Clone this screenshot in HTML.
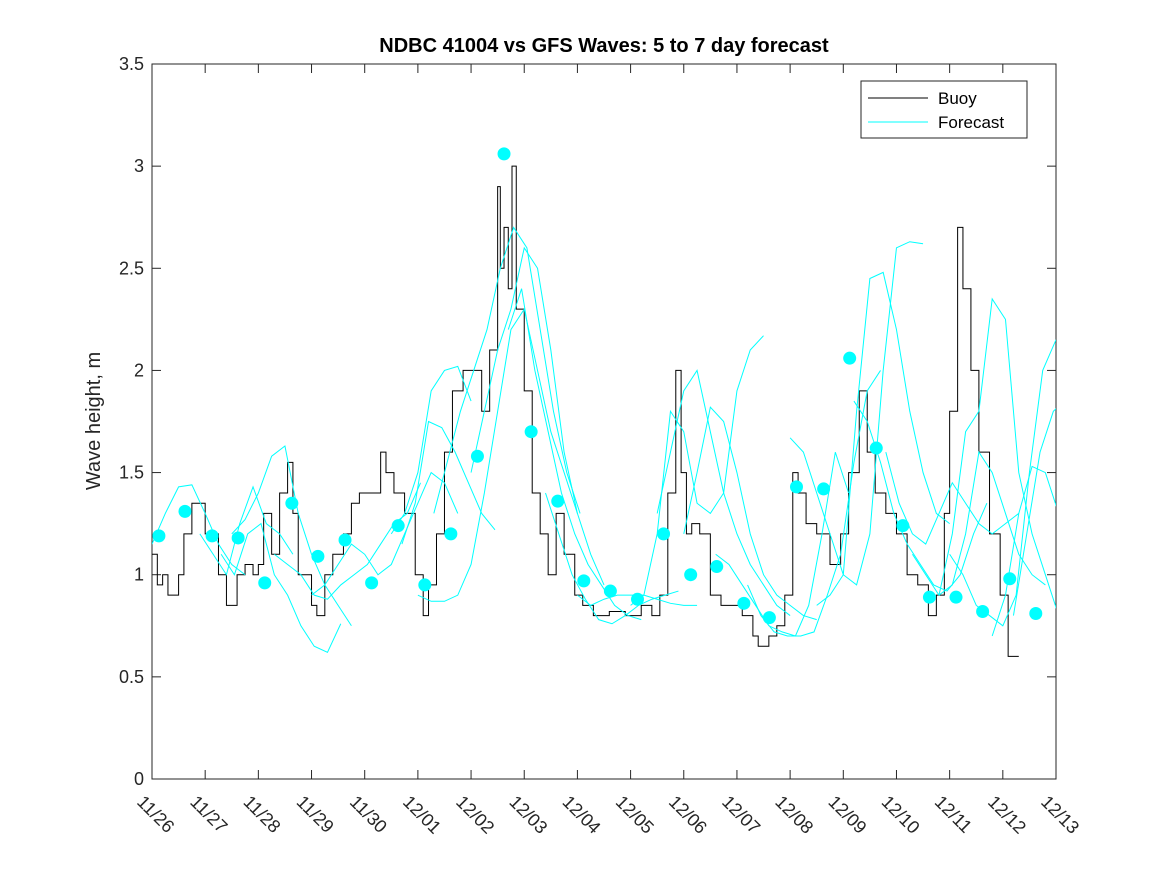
<!DOCTYPE html>
<html><head><meta charset="utf-8"><style>
body{margin:0;background:#fff;}
svg{display:block;font-family:"Liberation Sans",sans-serif;}
</style></head><body>
<svg id="chart" width="1167" height="875">
<rect width="1167" height="875" fill="#fff"/>
<defs><clipPath id="pc"><rect x="152" y="64" width="904" height="715"/></clipPath></defs>
<rect x="152" y="64" width="904" height="715" fill="#fff" stroke="#262626"/>
<g id="grid"></g>
<g id="series" clip-path="url(#pc)"></g>
<text x="604" y="52" text-anchor="middle" font-size="20" font-weight="bold" fill="#000">NDBC 41004 vs GFS Waves: 5 to 7 day forecast</text>
<text transform="translate(100,421) rotate(-90)" text-anchor="middle" font-size="20" fill="#262626">Wave height, m</text>
<g>
<rect x="861" y="81" width="166" height="57" fill="#fff" stroke="#262626"/>
<line x1="868" y1="98" x2="928" y2="98" stroke="#000"/>
<text x="938" y="104" font-size="17" fill="#000">Buoy</text>
<line x1="868" y1="122" x2="928" y2="122" stroke="#00ffff"/>
<text x="938" y="128" font-size="17" fill="#000">Forecast</text>
</g>
</svg>
<script>
const xTickLabels=["11/26","11/27","11/28","11/29","11/30","12/01","12/02","12/03","12/04","12/05","12/06","12/07","12/08","12/09","12/10","12/11","12/12","12/13"];
const yTicks=[0,0.5,1,1.5,2,2.5,3,3.5];
const buoyDays=[0,0.1,0.2,0.3,0.5,0.6,0.75,1.0,1.25,1.4,1.6,1.75,1.9,2.0,2.1,2.25,2.4,2.55,2.65,2.75,2.9,3.0,3.1,3.25,3.4,3.6,3.75,3.9,4.1,4.3,4.4,4.55,4.75,4.95,5.1,5.2,5.35,5.5,5.65,5.85,6.0,6.2,6.35,6.5,6.55,6.62,6.7,6.77,6.85,7.0,7.15,7.3,7.45,7.6,7.75,7.95,8.1,8.3,8.6,8.9,9.2,9.4,9.55,9.7,9.85,9.95,10.05,10.15,10.3,10.5,10.7,10.9,11.1,11.3,11.4,11.6,11.75,11.9,12.05,12.15,12.3,12.5,12.75,12.95,13.1,13.3,13.45,13.6,13.8,14.0,14.2,14.4,14.6,14.75,14.9,15.0,15.15,15.25,15.4,15.55,15.75,15.95,16.1,16.3];
const buoyVals=[1.1,0.95,1.0,0.9,1.0,1.2,1.35,1.2,1.0,0.85,1.0,1.05,1.0,1.05,1.3,1.1,1.4,1.55,1.3,1.0,1.0,0.85,0.8,1.0,1.1,1.2,1.35,1.4,1.4,1.6,1.5,1.4,1.3,1.0,0.8,0.95,1.2,1.6,1.9,2.0,2.0,1.8,2.1,2.9,2.5,2.7,2.4,3.0,2.3,1.9,1.4,1.2,1.0,1.3,1.1,0.9,0.85,0.8,0.82,0.8,0.85,0.8,0.9,1.4,2.0,1.5,1.2,1.25,1.2,0.9,0.85,0.85,0.8,0.7,0.65,0.7,0.75,0.9,1.5,1.4,1.25,1.2,1.05,1.2,1.5,1.9,1.6,1.4,1.3,1.2,1.0,0.95,0.8,0.9,1.3,1.8,2.7,2.4,2.0,1.6,1.2,0.9,0.6,0.6];
const dotDays=[0.13,0.62,1.13,1.62,2.12,2.63,3.12,3.63,4.13,4.63,5.13,5.62,6.12,6.62,7.13,7.63,8.12,8.62,9.13,9.62,10.13,10.62,11.13,11.61,12.12,12.63,13.12,13.62,14.12,14.62,15.12,15.62,16.13,16.62];
const dotVals=[1.19,1.31,1.19,1.18,0.96,1.35,1.09,1.17,0.96,1.24,0.95,1.20,1.58,3.06,1.70,1.36,0.97,0.92,0.88,1.20,1.00,1.04,0.86,0.79,1.43,1.42,2.06,1.62,1.24,0.89,0.89,0.82,0.98,0.81];
const fcStarts=[0,0.9,1.5,1.3,2.3,3.0,4.5,4.7,5.0,5.3,6.0,6.7,7.4,8.0,9.0,9.5,10.0,10.6,11.2,12.0,12.5,13.2,13.8,14.3,14.8,15.0,15.8,16.2];
const fcVals=[
[1.15,1.3,1.43,1.44,1.3,1.15,1.05,1.0],
[1.2,1.1,1.0,1.25,1.43,1.25,1.2,1.1],
[1.2,1.27,1.4,1.58,1.63,1.3,1.1,0.95,0.85,0.75],
[1.1,1.0,1.2,1.25,1.0,0.9,0.75,0.65,0.62,0.76],
[1.1,1.05,1.0,0.9,0.88,0.95,1.0,1.05,1.15,1.25,1.3,1.45],
[0.9,0.95,1.05,1.15,1.1,1.0,1.05,1.2,1.35,1.5,1.45,1.3],
[1.2,1.3,1.5,1.9,2.0,2.02,1.85],
[1.15,1.35,1.75,1.72,1.6,1.45,1.3,1.22],
[0.9,0.87,0.87,0.9,1.05,1.4,1.8,2.2,2.3,2.0,1.7,1.5,1.3],
[1.3,1.55,1.8,2.0,2.2,2.5,2.7,2.6,2.2,1.8,1.5,1.3],
[1.5,1.8,2.1,2.3,2.6,2.5,2.1,1.6,1.3,1.1,0.95],
[2.2,2.4,2.0,1.7,1.4,1.2,1.05,0.95,0.85,0.8,0.78],
[1.4,1.2,1.0,0.88,0.78,0.76,0.8,0.85,0.88,0.9,0.92],
[0.9,0.85,0.88,0.9,0.9,0.9,0.88,0.86,0.85,0.85],
[0.85,0.9,1.2,1.8,1.7,1.35,1.3,1.4,1.9,2.1,2.17],
[1.3,1.6,1.9,2.0,1.7,1.4,1.2,1.05,0.95,0.85,0.8],
[1.2,1.5,1.82,1.75,1.5,1.2,1.0,0.9,0.85,0.8,0.78],
[1.1,1.05,0.95,0.85,0.75,0.72,0.7,0.85,1.2,1.6,1.4],
[0.95,0.8,0.72,0.7,0.7,0.72,0.9,1.1,1.55,1.9,2.0],
[1.67,1.6,1.4,1.2,1.0,0.95,1.2,2.0,2.6,2.63,2.62],
[0.85,0.9,1.0,1.8,2.45,2.48,2.2,1.8,1.5,1.3,1.25],
[1.85,1.75,1.55,1.3,1.15,1.05,0.95,0.92,1.0,1.2,1.35],
[1.6,1.35,1.2,1.15,1.3,1.45,1.35,1.25,1.2,1.25,1.3],
[1.1,1.0,0.9,0.95,1.2,1.6,1.5,1.3,1.1,1.0,0.95],
[0.9,1.2,1.7,1.8,2.35,2.25,1.5,1.2,1.0,0.8,0.7],
[1.1,1.0,0.85,0.8,0.75,0.9,1.5,2.0,2.15],
[0.7,0.9,1.3,1.53,1.5,1.3,1.1],
[0.8,1.2,1.6,1.8,1.86,1.6]
];
const fcStep=0.25;
const NS="http://www.w3.org/2000/svg";
const X0=152,X1=1056,Y0=779,Y1=64;
function xs(d){return X0+d*(X1-X0)/17;}
function ys(v){return Y0-v*(Y0-Y1)/3.5;}
function mk(t,a,p){const e=document.createElementNS(NS,t);for(const k in a)e.setAttribute(k,a[k]);p.appendChild(e);return e;}
const grid=document.getElementById('grid'),ser=document.getElementById('series');
yTicks.forEach(v=>{
 const y=ys(v);
 const l1=mk('line',{x1:X0,x2:X0+9,y1:y,y2:y,stroke:'#262626'},grid);
 
 
 mk('line',{x1:X1-9,x2:X1,y1:y,y2:y,stroke:'#262626'},grid);
 const t=mk('text',{x:X0-8,y:y+6,'text-anchor':'end','font-size':18,fill:'#262626'},grid);
 t.textContent=String(v);
 
 
});
xTickLabels.forEach((s,i)=>{
 const x=xs(i);
 const l=mk('line',{x1:x,x2:x,y1:Y0,y2:Y0-9,stroke:'#262626'},grid);
 
 
 mk('line',{x1:x,x2:x,y1:Y1,y2:Y1+9,stroke:'#262626'},grid);
 const t=mk('text',{transform:`translate(${x-16},${Y0+24}) rotate(45)`,'font-size':18,fill:'#262626'},grid);
 t.textContent=s;
 
 
});
// buoy step line
let d='';
buoyDays.forEach((dd,i)=>{const x=xs(dd),y=ys(buoyVals[i]);if(i===0)d+=`M${x},${y}`;else d+=`H${x}V${y}`;});
const bp=mk('path',{d:d,fill:'none',stroke:'#000','stroke-width':1},ser);


fcStarts.forEach((s,k)=>{
 const pts=fcVals[k].map((v,i)=>xs(s+i*fcStep)+','+ys(v)).join(' ');
 const p=mk('polyline',{points:pts,fill:'none',stroke:'#00ffff','stroke-width':1},ser);
 
 
});
dotDays.forEach((dd,i)=>{
 const c=mk('circle',{cx:xs(dd),cy:ys(dotVals[i]),r:6.5,fill:'#00ffff'},ser);
 
 
});
</script>
</body></html>
